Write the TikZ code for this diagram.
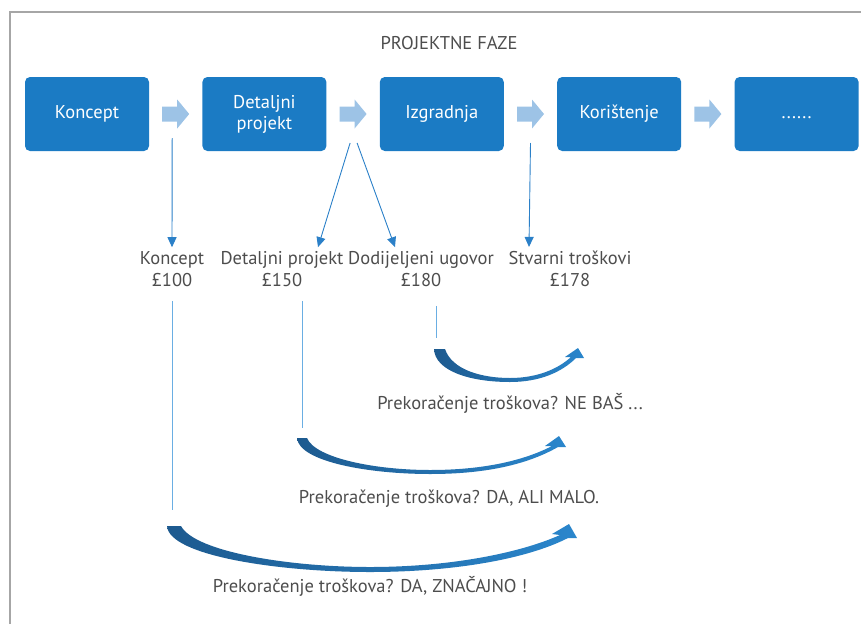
\documentclass[tikz,border=0pt]{standalone}
\usepackage{fontspec}
\setmainfont{PT Sans}
\usetikzlibrary{positioning,arrows.meta}
\definecolor{phaseblue}{HTML}{1B7BC4}
\definecolor{flowblue}{HTML}{9DC3E6}
\definecolor{linkblue}{HTML}{2B80C8}
\definecolor{paleblue}{HTML}{6AAEE3}
\definecolor{textgray}{HTML}{4D4D4D}
\definecolor{framegray}{HTML}{A6A6A6}
\definecolor{swoopdark}{HTML}{1D5A8F}
\definecolor{swooplight}{HTML}{2A86CC}
\tikzset{phase/.style={fill=phaseblue, rounded corners=5pt, minimum width=124pt,
    minimum height=74pt, text=white, align=center, inner sep=0pt,
    font=\fontsize{18.5}{21}\selectfont}
}
\tikzset{cost/.style={text=textgray, align=center, inner sep=2pt,
    font=\fontsize{18.5}{22}\selectfont}
}
\tikzset{link/.style={draw=linkblue, line width=0.9pt, -{Triangle[length=10pt,width=9pt]}}}
\tikzset{lead/.style={draw=paleblue, line width=0.9pt}}
\tikzset{swoop/.style={left color=swoopdark, right color=swooplight}}

\begin{document}
\begin{tikzpicture}[x=1pt,y=-1pt]
                \useasboundingbox (0,0) rectangle (861,624);
                \draw[framegray, line width=1.2pt] (10,624) -- (10,12) -- (861,12);

                \node[cost] (title) at (449,43) {PROJEKTNE FAZE};

                % Phases
                \node[phase] (koncept) at (87,114) {Koncept};
                \node[phase, right=53pt of koncept] (detaljni) {Detaljni\\projekt};
                \node[phase, right=53pt of detaljni] (izgradnja) {Izgradnja};
                \node[phase, right=53pt of izgradnja] (koristenje) {Korištenje};
                \node[phase, right=53pt of koristenje] (dalje) {\vphantom{Kp}......};

                \path (koncept) -- coordinate[midway] (s1) (detaljni);
                \path (detaljni) -- coordinate[midway] (s2) (izgradnja);
                \path (izgradnja) -- coordinate[midway] (s3) (koristenje);
                \path (koristenje) -- coordinate[midway] (s4) (dalje);

                \fill[flowblue] (s1) ++(-13.5,-7.5) -- ++(15,0) -- ++(0,-7) -- ++(12,14.5) -- ++(-12,14.5) -- ++(0,-7) -- ++(-15,0) -- cycle;
                \fill[flowblue] (s2) ++(-13.5,-7.5) -- ++(15,0) -- ++(0,-7) -- ++(12,14.5) -- ++(-12,14.5) -- ++(0,-7) -- ++(-15,0) -- cycle;
                \fill[flowblue] (s3) ++(-13.5,-7.5) -- ++(15,0) -- ++(0,-7) -- ++(12,14.5) -- ++(-12,14.5) -- ++(0,-7) -- ++(-15,0) -- cycle;
                \fill[flowblue] (s4) ++(-13.5,-7.5) -- ++(15,0) -- ++(0,-7) -- ++(12,14.5) -- ++(-12,14.5) -- ++(0,-7) -- ++(-15,0) -- cycle;

                % Costs
                \node[cost] (c1) at (172,269) {Koncept\\£100};
                \node[cost] (c2) at (282,269) {Detaljni projekt\\£150};
                \node[cost] (c3) at (421,269) {Dodijeljeni ugovor\\£180};
                \node[cost] (c4) at (570,269) {Stvarni troškovi\\£178};

                \coordinate (k1) at ([xshift=-3.5pt,yshift=-24pt]s1);
                \coordinate (k2) at ([xshift=-3pt,yshift=-29pt]s2);
                \coordinate (k3) at ([xshift=4pt,yshift=-29pt]s2);
                \coordinate (k4) at ([yshift=-29pt]s3);

                \draw[link] (k1) -- ([yshift=2pt]c1.north);
                \draw[link] (k2) -- ([xshift=36pt,yshift=2pt]c2.north);
                \draw[link] (k3) -- ([xshift=-26pt,yshift=2pt]c3.north);
                \draw[link] (k4) -- ([xshift=-41pt,yshift=2pt]c4.north);

                \coordinate (e1) at (172,510);
                \coordinate (e2) at (302,428);
                \coordinate (e3) at (436,338);
                \draw[lead] ([yshift=-12pt]c1.south) -- (e1);
                \draw[lead] ([xshift=20pt,yshift=-12pt]c2.south) -- (e2);
                \draw[lead] ([xshift=15pt,yshift=-17pt]c3.south) -- (e3);

                % Overruns
                \shade[swoop] (434,349) .. controls (435,371) and (470,382) .. (510,382) .. controls (540,382) and (562,372) .. (576,358)
                    -- (584,358) -- (578,348) -- (565,357) -- (571,357)
                    .. controls (558,369) and (537,378) .. (510,378) .. controls (482,378) and (452,370) .. (445,349) -- cycle;
                \shade[swoop] (297,438) .. controls (299,462) and (370,474) .. (430,474) .. controls (490,474) and (530,463) .. (558,447)
                    -- (566,447) -- (559,436) -- (545,446) -- (552,446)
                    .. controls (525,460) and (485,470) .. (430,470) .. controls (375,470) and (315,458) .. (307,438) -- cycle;
                \shade[swoop] (167,526) .. controls (169,556) and (280,572) .. (370,572) .. controls (450,572) and (525,560) .. (568,538)
                    -- (577,538) -- (569,524) -- (552,534) -- (560,535)
                    .. controls (520,553) and (450,567) .. (370,567) .. controls (290,567) and (195,552) .. (181,526) -- cycle;

                \node[cost] (r3) at (510,403) {Prekoračenje troškova? NE BAŠ ...};
                \node[cost] (r2) at (449,499) {Prekoračenje troškova? DA, ALI MALO.};
                \node[cost] (r1) at (370,586) {Prekoračenje troškova? DA, ZNAČAJNO !};
\end{tikzpicture}
\end{document}
